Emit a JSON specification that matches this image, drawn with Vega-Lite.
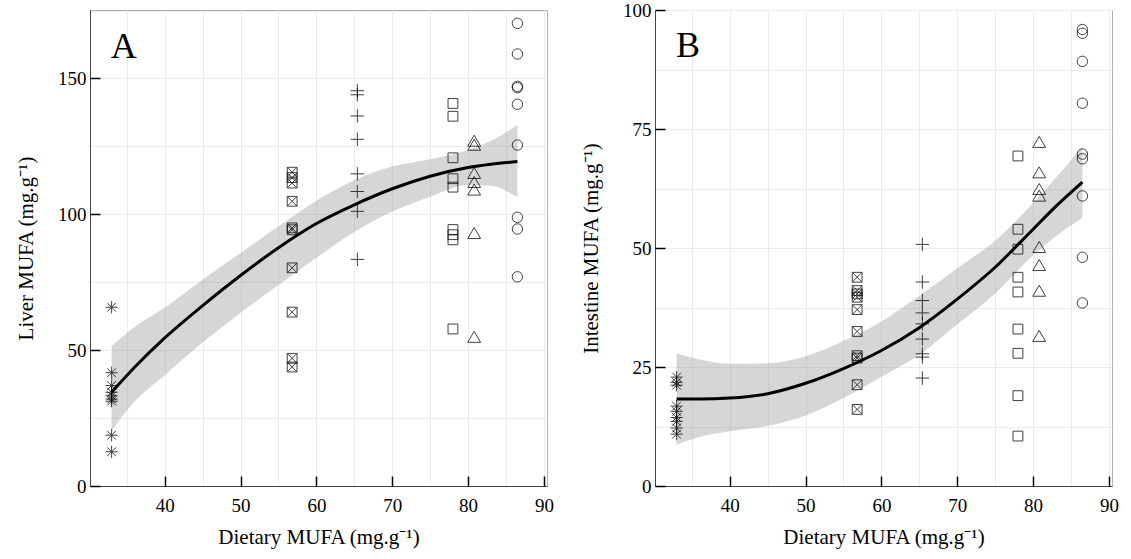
{
  "$schema": "https://vega.github.io/schema/vega-lite/v6.json",
  "padding": {"left": 15, "top": 0, "right": 5, "bottom": 5},
  "spacing": 26,
  "config": {
    "font": "Liberation Serif",
    "view": {"stroke": "#b0b0b0", "strokeWidth": 1},
    "axis": {
      "labelFont": "Liberation Serif", "titleFont": "Liberation Serif",
      "labelFontSize": 19, "titleFontSize": 21, "titleFontWeight": "normal",
      "labelColor": "black", "titleColor": "black",
      "gridColor": "#ebebeb", "gridWidth": 1,
      "domain": false, "domainColor": "#444444", "domainWidth": 1,
      "tickColor": "black", "tickWidth": 1.5, "tickSize": 10,
      "labelFlush": false, "labelOverlap": false
    },
    "axisX": {"labelPadding": 10, "titlePadding": 11},
    "axisY": {"labelPadding": 4, "titlePadding": 21}
  },
  "datasets": {
    "liver": [
      {"group": "D1", "dietary": 33.0, "mufa": 65.8}, {"group": "D1", "dietary": 33.0, "mufa": 41.7}, {"group": "D1", "dietary": 33.0, "mufa": 37.0}, {"group": "D1", "dietary": 33.0, "mufa": 34.5}, {"group": "D1", "dietary": 33.0, "mufa": 33.2}, {"group": "D1", "dietary": 33.0, "mufa": 32.0}, {"group": "D1", "dietary": 33.0, "mufa": 31.2}, {"group": "D1", "dietary": 33.0, "mufa": 18.7}, {"group": "D1", "dietary": 33.0, "mufa": 12.6},
      {"group": "D2", "dietary": 56.8, "mufa": 115.5}, {"group": "D2", "dietary": 56.8, "mufa": 113.5}, {"group": "D2", "dietary": 56.8, "mufa": 111.5}, {"group": "D2", "dietary": 56.8, "mufa": 104.8}, {"group": "D2", "dietary": 56.8, "mufa": 95.0}, {"group": "D2", "dietary": 56.8, "mufa": 94.3}, {"group": "D2", "dietary": 56.8, "mufa": 80.3}, {"group": "D2", "dietary": 56.8, "mufa": 64.0}, {"group": "D2", "dietary": 56.8, "mufa": 47.0}, {"group": "D2", "dietary": 56.8, "mufa": 43.8},
      {"group": "D3", "dietary": 65.4, "mufa": 145.5}, {"group": "D3", "dietary": 65.4, "mufa": 144.0}, {"group": "D3", "dietary": 65.4, "mufa": 136.2}, {"group": "D3", "dietary": 65.4, "mufa": 127.6}, {"group": "D3", "dietary": 65.4, "mufa": 114.9}, {"group": "D3", "dietary": 65.4, "mufa": 108.4}, {"group": "D3", "dietary": 65.4, "mufa": 101.1}, {"group": "D3", "dietary": 65.4, "mufa": 83.4},
      {"group": "D4", "dietary": 78.0, "mufa": 140.8}, {"group": "D4", "dietary": 78.0, "mufa": 136.1}, {"group": "D4", "dietary": 78.0, "mufa": 120.8}, {"group": "D4", "dietary": 78.0, "mufa": 113.1}, {"group": "D4", "dietary": 78.0, "mufa": 110.0}, {"group": "D4", "dietary": 78.0, "mufa": 94.4}, {"group": "D4", "dietary": 78.0, "mufa": 92.5}, {"group": "D4", "dietary": 78.0, "mufa": 90.6}, {"group": "D4", "dietary": 78.0, "mufa": 57.8},
      {"group": "D5", "dietary": 80.8, "mufa": 127.0}, {"group": "D5", "dietary": 80.8, "mufa": 125.5}, {"group": "D5", "dietary": 80.8, "mufa": 115.1}, {"group": "D5", "dietary": 80.8, "mufa": 111.8}, {"group": "D5", "dietary": 80.8, "mufa": 109.0}, {"group": "D5", "dietary": 80.8, "mufa": 93.0}, {"group": "D5", "dietary": 80.8, "mufa": 54.8},
      {"group": "D6", "dietary": 86.5, "mufa": 170.3}, {"group": "D6", "dietary": 86.5, "mufa": 159.0}, {"group": "D6", "dietary": 86.5, "mufa": 147.1}, {"group": "D6", "dietary": 86.5, "mufa": 146.6}, {"group": "D6", "dietary": 86.5, "mufa": 140.5}, {"group": "D6", "dietary": 86.5, "mufa": 125.5}, {"group": "D6", "dietary": 86.5, "mufa": 98.9}, {"group": "D6", "dietary": 86.5, "mufa": 94.6}, {"group": "D6", "dietary": 86.5, "mufa": 77.0}
    ],
    "intestine": [
      {"group": "D1", "dietary": 33.0, "mufa": 22.9}, {"group": "D1", "dietary": 33.0, "mufa": 21.8}, {"group": "D1", "dietary": 33.0, "mufa": 21.2}, {"group": "D1", "dietary": 33.0, "mufa": 16.8}, {"group": "D1", "dietary": 33.0, "mufa": 15.7}, {"group": "D1", "dietary": 33.0, "mufa": 14.4}, {"group": "D1", "dietary": 33.0, "mufa": 13.6}, {"group": "D1", "dietary": 33.0, "mufa": 12.2}, {"group": "D1", "dietary": 33.0, "mufa": 10.9},
      {"group": "D2", "dietary": 56.8, "mufa": 43.9}, {"group": "D2", "dietary": 56.8, "mufa": 41.1}, {"group": "D2", "dietary": 56.8, "mufa": 40.4}, {"group": "D2", "dietary": 56.8, "mufa": 39.7}, {"group": "D2", "dietary": 56.8, "mufa": 37.1}, {"group": "D2", "dietary": 56.8, "mufa": 32.5}, {"group": "D2", "dietary": 56.8, "mufa": 27.4}, {"group": "D2", "dietary": 56.8, "mufa": 26.9}, {"group": "D2", "dietary": 56.8, "mufa": 21.3}, {"group": "D2", "dietary": 56.8, "mufa": 16.1},
      {"group": "D3", "dietary": 65.4, "mufa": 50.8}, {"group": "D3", "dietary": 65.4, "mufa": 42.9}, {"group": "D3", "dietary": 65.4, "mufa": 39.0}, {"group": "D3", "dietary": 65.4, "mufa": 36.4}, {"group": "D3", "dietary": 65.4, "mufa": 34.1}, {"group": "D3", "dietary": 65.4, "mufa": 30.9}, {"group": "D3", "dietary": 65.4, "mufa": 27.8}, {"group": "D3", "dietary": 65.4, "mufa": 27.1}, {"group": "D3", "dietary": 65.4, "mufa": 22.7},
      {"group": "D4", "dietary": 78.0, "mufa": 69.4}, {"group": "D4", "dietary": 78.0, "mufa": 54.0}, {"group": "D4", "dietary": 78.0, "mufa": 49.8}, {"group": "D4", "dietary": 78.0, "mufa": 43.9}, {"group": "D4", "dietary": 78.0, "mufa": 40.8}, {"group": "D4", "dietary": 78.0, "mufa": 33.0}, {"group": "D4", "dietary": 78.0, "mufa": 27.9}, {"group": "D4", "dietary": 78.0, "mufa": 19.0}, {"group": "D4", "dietary": 78.0, "mufa": 10.5},
      {"group": "D5", "dietary": 80.8, "mufa": 72.3}, {"group": "D5", "dietary": 80.8, "mufa": 65.9}, {"group": "D5", "dietary": 80.8, "mufa": 62.4}, {"group": "D5", "dietary": 80.8, "mufa": 61.0}, {"group": "D5", "dietary": 80.8, "mufa": 50.2}, {"group": "D5", "dietary": 80.8, "mufa": 46.4}, {"group": "D5", "dietary": 80.8, "mufa": 41.0}, {"group": "D5", "dietary": 80.8, "mufa": 31.5},
      {"group": "D6", "dietary": 86.5, "mufa": 96.0}, {"group": "D6", "dietary": 86.5, "mufa": 95.2}, {"group": "D6", "dietary": 86.5, "mufa": 89.3}, {"group": "D6", "dietary": 86.5, "mufa": 80.5}, {"group": "D6", "dietary": 86.5, "mufa": 69.8}, {"group": "D6", "dietary": 86.5, "mufa": 68.8}, {"group": "D6", "dietary": 86.5, "mufa": 61.0}, {"group": "D6", "dietary": 86.5, "mufa": 48.1}, {"group": "D6", "dietary": 86.5, "mufa": 38.5}
    ],
    "fitA": [
      {"dietary": 33, "fit": 34.5, "lo": 20.4, "hi": 51.5},
      {"dietary": 36, "fit": 43.6, "lo": 31.0, "hi": 58.5},
      {"dietary": 40, "fit": 54.5, "lo": 40.8, "hi": 65.6},
      {"dietary": 45, "fit": 66.4, "lo": 52.8, "hi": 76.0},
      {"dietary": 50, "fit": 77.5, "lo": 63.8, "hi": 85.8},
      {"dietary": 55, "fit": 87.7, "lo": 74.0, "hi": 95.6},
      {"dietary": 60, "fit": 96.6, "lo": 84.0, "hi": 105.0},
      {"dietary": 65, "fit": 103.5, "lo": 93.5, "hi": 112.5},
      {"dietary": 70, "fit": 109.4, "lo": 101.0, "hi": 117.6},
      {"dietary": 75, "fit": 114.0, "lo": 106.5, "hi": 120.3},
      {"dietary": 80, "fit": 117.2, "lo": 110.8, "hi": 123.7},
      {"dietary": 83, "fit": 118.4, "lo": 110.5, "hi": 127.0},
      {"dietary": 86.5, "fit": 119.4, "lo": 106.3, "hi": 132.9}
    ],
    "fitB": [
      {"dietary": 33, "fit": 18.3, "lo": 8.7, "hi": 27.9},
      {"dietary": 36, "fit": 18.3, "lo": 10.3, "hi": 26.6},
      {"dietary": 40, "fit": 18.5, "lo": 11.5, "hi": 25.7},
      {"dietary": 45, "fit": 19.4, "lo": 12.6, "hi": 25.8},
      {"dietary": 50, "fit": 21.6, "lo": 14.8, "hi": 27.3},
      {"dietary": 55, "fit": 24.7, "lo": 18.5, "hi": 30.5},
      {"dietary": 60, "fit": 28.5, "lo": 23.0, "hi": 34.6},
      {"dietary": 65, "fit": 33.3, "lo": 27.6, "hi": 40.0},
      {"dietary": 70, "fit": 39.3, "lo": 34.0, "hi": 45.8},
      {"dietary": 75, "fit": 46.0, "lo": 40.5, "hi": 51.6},
      {"dietary": 80, "fit": 54.0, "lo": 48.5, "hi": 59.5},
      {"dietary": 83, "fit": 58.8, "lo": 52.5, "hi": 64.8},
      {"dietary": 86.5, "fit": 63.9, "lo": 56.4, "hi": 71.4}
    ]
  },
  "hconcat": [
    {
      "width": 457, "height": 476,
      "resolve": {"axis": {"x": "independent", "y": "independent"}},
      "layer": [
        {
          "data": {"name": "fitA"},
          "mark": {"type": "area", "color": "#999999", "opacity": 0.4, "interpolate": "monotone"},
          "encoding": {
            "x": {"field": "dietary", "type": "quantitative", "scale": {"domain": [30.15, 90.4], "nice": false, "zero": false},
                  "axis": {"orient": "bottom", "title": null, "values": [35, 40, 45, 50, 55, 60, 65, 70, 75, 80, 85, 90], "grid": true, "labels": false, "ticks": false, "domain": true}},
            "y": {"field": "lo", "type": "quantitative", "scale": {"domain": [0, 175.2], "nice": false},
                  "axis": {"orient": "left", "title": null, "values": [0, 25, 50, 75, 100, 125, 150, 175], "grid": true, "labels": false, "ticks": false, "domain": true}},
            "y2": {"field": "hi"}
          }
        },
        {
          "data": {"name": "liver"},
          "mark": {"type": "point", "filled": false, "color": "black", "strokeWidth": 1, "opacity": 0.75, "size": 150},
          "encoding": {
            "x": {"field": "dietary", "type": "quantitative",
                  "axis": {"orient": "bottom", "title": "Dietary MUFA (mg.g⁻¹)", "values": [40, 50, 60, 70, 80, 90], "grid": false, "offset": -10}},
            "y": {"field": "mufa", "type": "quantitative",
                  "axis": {"orient": "left", "title": "Liver MUFA (mg.g⁻¹)", "values": [0, 50, 100, 150], "grid": false, "offset": -10}},
            "shape": {"field": "group", "type": "nominal", "legend": null,
              "scale": {"domain": ["D1", "D2", "D3", "D4", "D5", "D6"],
                "range": [
                  "M-1,0L1,0M0,-1L0,1M-0.71,-0.71L0.71,0.71M-0.71,0.71L0.71,-0.71",
                  "M-0.8,-0.8L0.8,-0.8L0.8,0.8L-0.8,0.8ZM-0.8,-0.8L0.8,0.8M-0.8,0.8L0.8,-0.8",
                  "M-1.1,0L1.1,0M0,-1.1L0,1.1",
                  "M-0.8,-0.8L0.8,-0.8L0.8,0.8L-0.8,0.8Z",
                  "M0,-0.95L1.05,0.85L-1.05,0.85Z",
                  "M0.85,0A0.85,0.85,0,1,1,-0.85,0A0.85,0.85,0,1,1,0.85,0Z"
                ]}}
          }
        },
        {
          "data": {"name": "fitA"},
          "mark": {"type": "line", "color": "black", "strokeWidth": 3, "interpolate": "monotone"},
          "encoding": {
            "x": {"field": "dietary", "type": "quantitative", "axis": null},
            "y": {"field": "fit", "type": "quantitative", "axis": null}
          }
        },
        {
          "data": {"values": [{"panel": "A", "px": 34.6, "py": 161.5}]},
          "mark": {"type": "text", "font": "Liberation Serif", "fontSize": 36, "align": "center", "baseline": "middle", "color": "black"},
          "encoding": {
            "x": {"field": "px", "type": "quantitative", "axis": null},
            "y": {"field": "py", "type": "quantitative", "axis": null},
            "text": {"field": "panel"}
          }
        }
      ]
    },
    {
      "width": 457, "height": 476,
      "resolve": {"axis": {"x": "independent", "y": "independent"}},
      "layer": [
        {
          "data": {"name": "fitB"},
          "mark": {"type": "area", "color": "#999999", "opacity": 0.4, "interpolate": "monotone"},
          "encoding": {
            "x": {"field": "dietary", "type": "quantitative", "scale": {"domain": [30.15, 90.4], "nice": false, "zero": false},
                  "axis": {"orient": "bottom", "title": null, "values": [35, 40, 45, 50, 55, 60, 65, 70, 75, 80, 85, 90], "grid": true, "labels": false, "ticks": false, "domain": true}},
            "y": {"field": "lo", "type": "quantitative", "scale": {"domain": [0, 100.1], "nice": false},
                  "axis": {"orient": "left", "title": null, "values": [0, 12.5, 25, 37.5, 50, 62.5, 75, 87.5, 100], "grid": true, "labels": false, "ticks": false, "domain": true}},
            "y2": {"field": "hi"}
          }
        },
        {
          "data": {"name": "intestine"},
          "mark": {"type": "point", "filled": false, "color": "black", "strokeWidth": 1, "opacity": 0.75, "size": 150},
          "encoding": {
            "x": {"field": "dietary", "type": "quantitative",
                  "axis": {"orient": "bottom", "title": "Dietary MUFA (mg.g⁻¹)", "values": [40, 50, 60, 70, 80, 90], "grid": false, "offset": -10}},
            "y": {"field": "mufa", "type": "quantitative",
                  "axis": {"orient": "left", "title": "Intestine MUFA (mg.g⁻¹)", "values": [0, 25, 50, 75, 100], "grid": false, "offset": -10}},
            "shape": {"field": "group", "type": "nominal", "legend": null,
              "scale": {"domain": ["D1", "D2", "D3", "D4", "D5", "D6"],
                "range": [
                  "M-1,0L1,0M0,-1L0,1M-0.71,-0.71L0.71,0.71M-0.71,0.71L0.71,-0.71",
                  "M-0.8,-0.8L0.8,-0.8L0.8,0.8L-0.8,0.8ZM-0.8,-0.8L0.8,0.8M-0.8,0.8L0.8,-0.8",
                  "M-1.1,0L1.1,0M0,-1.1L0,1.1",
                  "M-0.8,-0.8L0.8,-0.8L0.8,0.8L-0.8,0.8Z",
                  "M0,-0.95L1.05,0.85L-1.05,0.85Z",
                  "M0.85,0A0.85,0.85,0,1,1,-0.85,0A0.85,0.85,0,1,1,0.85,0Z"
                ]}}
          }
        },
        {
          "data": {"name": "fitB"},
          "mark": {"type": "line", "color": "black", "strokeWidth": 3, "interpolate": "monotone"},
          "encoding": {
            "x": {"field": "dietary", "type": "quantitative", "axis": null},
            "y": {"field": "fit", "type": "quantitative", "axis": null}
          }
        },
        {
          "data": {"values": [{"panel": "B", "px": 34.5, "py": 92.6}]},
          "mark": {"type": "text", "font": "Liberation Serif", "fontSize": 36, "align": "center", "baseline": "middle", "color": "black"},
          "encoding": {
            "x": {"field": "px", "type": "quantitative", "axis": null},
            "y": {"field": "py", "type": "quantitative", "axis": null},
            "text": {"field": "panel"}
          }
        }
      ]
    }
  ]
}
